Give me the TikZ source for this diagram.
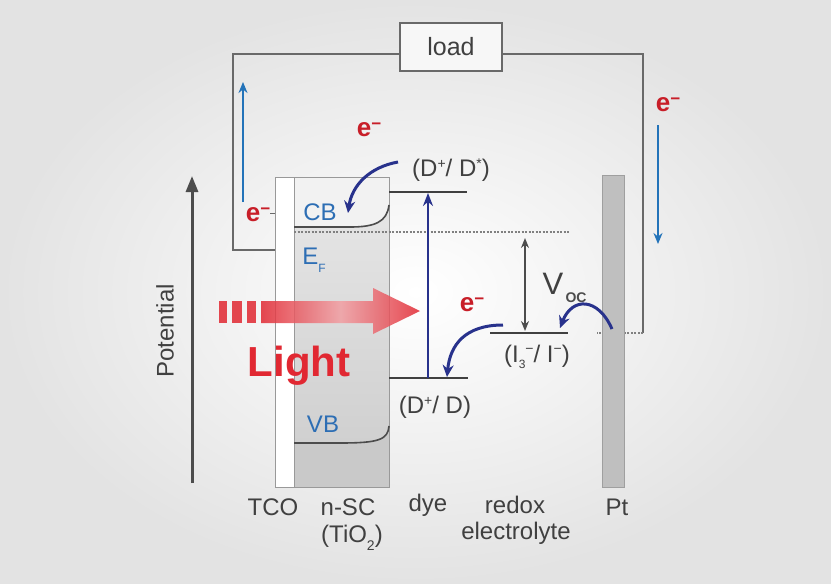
\documentclass[tikz,border=0pt]{standalone}
\usepackage{fontspec}
\setmainfont{Liberation Sans}
\usetikzlibrary{arrows.meta}
\definecolor{wirec}{RGB}{105,105,105}
\definecolor{lblblue}{RGB}{45,110,180}
\definecolor{dkblue}{RGB}{40,50,140}
\definecolor{ltblue}{RGB}{35,115,185}
\definecolor{ered}{RGB}{200,30,40}
\definecolor{lightred}{RGB}{225,40,50}
\tikzset{
  wire/.style={draw=wirec, line width=1.4pt},
  lbl/.style={font=\fontsize{24}{28}\selectfont, text=black!75, inner sep=0pt},
  bandlbl/.style={font=\fontsize{24}{28}\selectfont, text=lblblue, inner sep=0pt},
  elec/.style={font=\fontsize{26}{30}\selectfont\bfseries, text=ered, inner sep=0pt},
  dkarrow/.style={draw=dkblue, line width=3pt, -{Stealth[length=12pt,width=11pt]}},
  ltarrow/.style={draw=ltblue, line width=2.2pt, -{Stealth[length=11pt,width=9pt]}},
  level/.style={draw=black!75, line width=1.6pt},
  dottedline/.style={draw=gray, line width=1.6pt, dash pattern=on 2pt off 1.5pt},
}
\newcommand{\elm}{e\raisebox{0.55ex}{\fontsize{17}{17}\selectfont −}}
\begin{document}
\begin{tikzpicture}[x=1pt,y=-1pt]
\useasboundingbox (0,0) rectangle (831,584);
\shade[inner color=white, outer color=gray!22] (0,0) rectangle (831,584);

% coordinates of circuit
\coordinate (wTL) at (233,54);
\coordinate (wTR) at (643,54);
\coordinate (wBL) at (233,250);
\coordinate (wBR) at (643,333);
\coordinate (tcoW) at (275,250);
\coordinate (ptC) at (597,333);

% load
\node[draw=wirec, line width=1.4pt, fill=gray!6, minimum width=102pt, minimum height=48pt, inner sep=0pt,
      font=\fontsize{25}{28}\selectfont, text=black!75] (load) at (451,47) {load};
\draw[wire] (load.west |- wTL) -- (wTL) -- (wBL) -- (tcoW);
\draw[wire] (load.east |- wTR) -- (wTR) -- (wBR);
\draw[dottedline] (wBR) -- (ptC);

% TCO and n-SC
\node[draw=gray!80, fill=white, line width=1pt, minimum width=19pt, minimum height=310pt, inner sep=0pt, anchor=north west] (tco) at (275,177) {};
\shade[top color=gray!18, bottom color=gray!40] (294,177) rectangle (389,487);
\fill[gray!10] (294,177) -- (389,177) -- (389,205) .. controls (387,222) and (375,227) .. (350,227) -- (294,227) -- cycle;
\fill[gray!42] (294,487) -- (389,487) -- (389,426) .. controls (388,440) and (378,443) .. (340,443) -- (294,443) -- cycle;
\node[draw=gray!80, line width=1pt, minimum width=95pt, minimum height=310pt, inner sep=0pt, anchor=north west] (nsc) at (294,177) {};
\draw[draw=black!70, line width=1.6pt] (294,227) -- (350,227) .. controls (375,227) and (387,222) .. (389,205);
\draw[draw=black!70, line width=1.6pt] (294,443) -- (340,443) .. controls (378,443) and (388,440) .. (389,426);

% Pt
\node[draw=gray!75, fill=gray!50, line width=1pt, minimum width=22pt, minimum height=312pt, inner sep=0pt, anchor=north west] (pt) at (602,175) {};

% dotted Fermi level
\coordinate (efL) at (294,232);
\coordinate (efR) at (570,232);
\draw[dottedline] (efL) -- (efR);

% Potential axis
\coordinate (potB) at (192,483);
\coordinate (potT) at (192,176);
\draw[draw=black!70, line width=3pt, -{Triangle[length=16pt,width=12pt]}] (potB) -- (potT);
\node[lbl, rotate=90] (potlbl) at (165,331) {Potential};

% Light arrow
\begin{scope}[opacity=0.85]
\fill[lightred] (219,301) rectangle (227,323);
\fill[lightred] (232,301) rectangle (242,323);
\fill[lightred] (247,301) rectangle (256,323);
\shade[left color=lightred, right color=lightred, middle color=lightred!45!white]
  (261,301) -- (373,301) -- (373,288) -- (420,311) -- (373,334) -- (373,323) -- (261,323) -- cycle;
\end{scope}
\node[font=\fontsize{42}{46}\selectfont\bfseries, text=lightred, inner sep=0pt] (light) at (299,366) {Light};

% dye levels
\coordinate (dsL) at (389,192);
\coordinate (dsR) at (467,192);
\coordinate (dgL) at (389,378);
\coordinate (dgR) at (468,378);
\draw[level] (dsL) -- (dsR);
\draw[level] (dgL) -- (dgR);
\node[lbl] (dstar) at (451,170) {(D\raisebox{0.6ex}{\fontsize{14}{14}\selectfont +}/ D\raisebox{0.6ex}{\fontsize{14}{14}\selectfont *})};
\node[lbl] (dground) at (435,407) {(D\raisebox{0.6ex}{\fontsize{14}{14}\selectfont +}/ D)};
\coordinate (exB) at (428,378);
\coordinate (exT) at (428,193);
\draw[draw=dkblue, line width=2.6pt, -{Stealth[length=13pt,width=10pt]}] (exB) -- (exT);

% redox level
\coordinate (rL) at (490,333);
\coordinate (rR) at (568,333);
\draw[level] (rL) -- (rR);
\node[lbl] (redox) at (537,357) {(I\raisebox{-0.5ex}{\fontsize{12}{12}\selectfont 3}\raisebox{0.7ex}{\fontsize{14}{14}\selectfont −}/ I\raisebox{0.7ex}{\fontsize{14}{14}\selectfont −})};

% Voc
\coordinate (vT) at (525,238);
\coordinate (vB) at (525,331);
\draw[draw=black!70, line width=1.6pt, {Stealth[length=10pt,width=8pt]}-{Stealth[length=10pt,width=8pt]}] (vT) -- (vB);
\node[font=\fontsize{31}{32}\selectfont, text=black!75, inner sep=0pt] (voc) at (553,284) {V};
\node[font=\fontsize{14}{14}\selectfont\bfseries, text=black!70, inner sep=0pt] (vocsub) at (576,298) {OC};

% curved electron arrows
\coordinate (inj0) at (398,162);
\coordinate (inj1) at (348,213);
\draw[dkarrow] (inj0) .. controls (370,167) and (352,185) .. (inj1);
\coordinate (reg0) at (503,325);
\coordinate (reg1) at (447,377);
\draw[dkarrow] (reg0) .. controls (465,325) and (450,345) .. (reg1);
\coordinate (pt0) at (612,329);
\coordinate (pt1) at (560,328);
\draw[dkarrow] (pt0) .. controls (598,297) and (572,297) .. (pt1);

% wire current arrows
\coordinate (la0) at (243,202);
\coordinate (la1) at (243,82);
\draw[ltarrow] (la0) -- (la1);
\coordinate (ra0) at (658,125);
\coordinate (ra1) at (658,244);
\draw[ltarrow] (ra0) -- (ra1);

% electron labels
\node[elec] (e1) at (369,130) {\elm};
\node[elec] (e2) at (668,105) {\elm};
\node[elec] (e3) at (258,215) {\elm};
\node[elec] (e4) at (472,305) {\elm};
\coordinate (e3w) at (275,213);
\draw[draw=wirec, line width=1pt] (e3.east |- e3w) -- (e3w);

% band labels
\node[bandlbl] (cb) at (320,212) {CB};
\node[bandlbl] (ef) at (314,260) {E\raisebox{-0.6ex}{\fontsize{12}{12}\selectfont F}};
\node[bandlbl] (vb) at (323,424) {VB};

% bottom labels
\node[lbl] (ltco) at (273,507) {TCO};
\node[lbl] (lnsc) at (348,507) {n-SC};
\node[lbl] (ltio) at (352,538) {(TiO\raisebox{-0.6ex}{\fontsize{14}{14}\selectfont 2})};
\node[lbl] (ldye) at (428,505) {dye};
\node[lbl] (lredox) at (515,505) {redox};
\node[lbl] (lelec) at (516,533) {electrolyte};
\node[lbl] (lpt) at (617,507) {Pt};
\end{tikzpicture}
\end{document}
